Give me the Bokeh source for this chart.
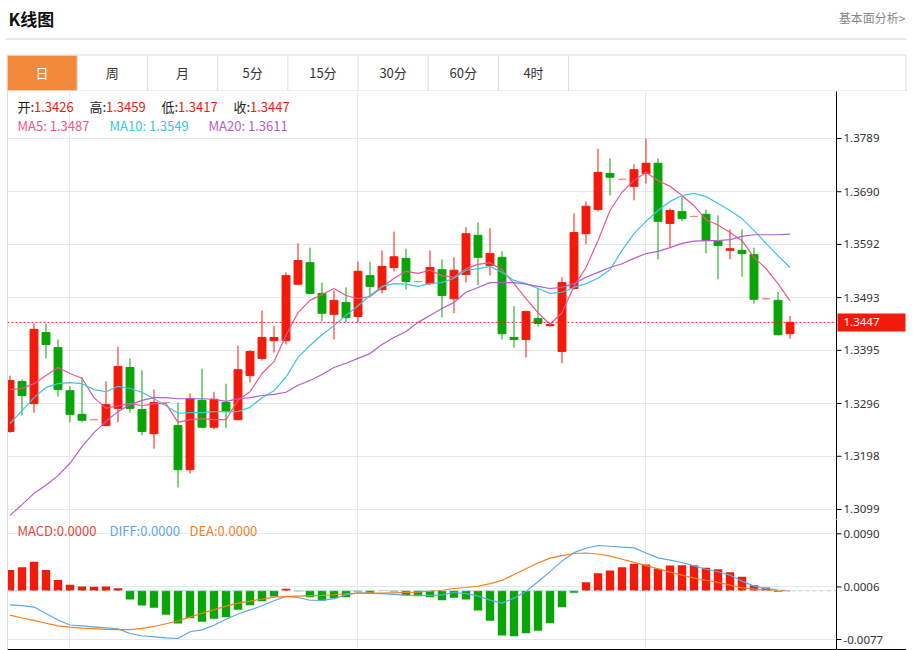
from bokeh.plotting import figure
from bokeh.models import Range1d, LinearAxis, FixedTicker, Grid, Span, Label
from bokeh.layouts import column, row
from bokeh.embed import file_html
from bokeh.resources import INLINE
from bokeh.core.properties import value

# ---------------- data ----------------
tabs = ["日", "周", "月", "5分", "15分", "30分", "60分", "4时"]
price_ticks = [1.3099, 1.3198, 1.3296, 1.3395, 1.3493, 1.3592, 1.3690, 1.3789]
macd_ticks = [-0.0077, 0.0006, 0.0090]
month_ticks = [5, 29, 53]

opens = [1.3244, 1.3337, 1.3296, 1.3428, 1.3400, 1.3320, 1.3276, 1.3266, 1.3255, 1.3287,
         1.3363, 1.3285, 1.3240, 1.3298, 1.3255, 1.3173, 1.3302, 1.3252, 1.3298, 1.3266,
         1.3348, 1.3380, 1.3413, 1.3413, 1.3518, 1.3558, 1.3501, 1.3462, 1.3484, 1.3458,
         1.3534, 1.3508, 1.3549, 1.3566, 1.3523, 1.3519, 1.3545, 1.3491, 1.3536, 1.3609,
         1.3553, 1.3568, 1.3419, 1.3415, 1.3454, 1.3441, 1.3393, 1.3510, 1.3612, 1.3657,
         1.3724, 1.3713, 1.3700, 1.3724, 1.3743, 1.3631, 1.3653, 1.3644, 1.3648, 1.3598,
         1.3581, 1.3581, 1.3573, 1.3491, 1.3488, 1.3426]
highs = [1.3348, 1.3341, 1.3445, 1.3445, 1.3415, 1.3328, 1.3345, 1.3267, 1.3337, 1.3402,
         1.3380, 1.3358, 1.3322, 1.3299, 1.3298, 1.3315, 1.3361, 1.3318, 1.3333, 1.3404,
         1.3395, 1.3469, 1.3441, 1.3540, 1.3594, 1.3586, 1.3521, 1.3506, 1.3512, 1.3560,
         1.3560, 1.3581, 1.3616, 1.3584, 1.3525, 1.3581, 1.3564, 1.3568, 1.3624, 1.3633,
         1.3622, 1.3579, 1.3477, 1.3469, 1.3510, 1.3445, 1.3531, 1.3650, 1.3672, 1.3770,
         1.3752, 1.3715, 1.3741, 1.3789, 1.3752, 1.3659, 1.3681, 1.3646, 1.3657, 1.3646,
         1.3620, 1.3620, 1.3586, 1.3493, 1.3504, 1.3459]
lows = [1.3242, 1.3274, 1.3279, 1.3380, 1.3309, 1.3261, 1.3261, 1.3265, 1.3254, 1.3261,
        1.3279, 1.3237, 1.3212, 1.3297, 1.3140, 1.3166, 1.3250, 1.3248, 1.3250, 1.3265,
        1.3335, 1.3376, 1.3391, 1.3406, 1.3516, 1.3499, 1.3449, 1.3415, 1.3447, 1.3447,
        1.3495, 1.3501, 1.3542, 1.3508, 1.3521, 1.3516, 1.3456, 1.3464, 1.3521, 1.3516,
        1.3534, 1.3415, 1.3400, 1.3382, 1.3439, 1.3439, 1.3371, 1.3508, 1.3592, 1.3653,
        1.3683, 1.3711, 1.3674, 1.3705, 1.3564, 1.3586, 1.3635, 1.3642, 1.3575, 1.3527,
        1.3564, 1.3532, 1.3482, 1.3489, 1.3423, 1.3417]
closes = [1.3339, 1.3311, 1.3434, 1.3406, 1.3322, 1.3276, 1.3265, 1.3266, 1.3294, 1.3365,
          1.3287, 1.3244, 1.3298, 1.3298, 1.3173, 1.3305, 1.3252, 1.3304, 1.3281, 1.3359,
          1.3393, 1.3419, 1.3419, 1.3534, 1.3562, 1.3501, 1.3464, 1.3488, 1.3456, 1.3542,
          1.3514, 1.3551, 1.3569, 1.3523, 1.3523, 1.3549, 1.3497, 1.3544, 1.3612, 1.3568,
          1.3575, 1.3426, 1.3415, 1.3467, 1.3445, 1.3443, 1.3521, 1.3614, 1.3663, 1.3726,
          1.3717, 1.3713, 1.3731, 1.3743, 1.3635, 1.3655, 1.3640, 1.3644, 1.3599, 1.3590,
          1.3584, 1.3575, 1.3490, 1.3491, 1.3424, 1.3447]
ma5 = [1.3322, 1.3324, 1.3333, 1.3348, 1.3363, 1.3352, 1.3343, 1.3307, 1.3287, 1.3292,
       1.3296, 1.3292, 1.3296, 1.3296, 1.3261, 1.3266, 1.3268, 1.3266, 1.3266, 1.3302,
       1.3318, 1.3352, 1.3374, 1.3423, 1.3465, 1.3488, 1.3499, 1.3510, 1.3497, 1.3491,
       1.3495, 1.3512, 1.3529, 1.3542, 1.3538, 1.3544, 1.3534, 1.3531, 1.3547, 1.3555,
       1.3558, 1.3545, 1.3519, 1.3491, 1.3465, 1.3443, 1.3465, 1.3514, 1.3549, 1.3599,
       1.3655, 1.3689, 1.3711, 1.3726, 1.3711, 1.3700, 1.3683, 1.3664, 1.3638, 1.3628,
       1.3614, 1.3599, 1.3568, 1.3547, 1.3519, 1.3487]
ma10 = [1.3259, 1.3283, 1.3307, 1.3326, 1.3333, 1.3335, 1.3333, 1.3322, 1.3318, 1.3328,
        1.3324, 1.3317, 1.3305, 1.3292, 1.3278, 1.3279, 1.3279, 1.3281, 1.3281, 1.3281,
        1.3289, 1.3307, 1.3320, 1.3345, 1.3382, 1.3404, 1.3424, 1.3441, 1.3460, 1.3478,
        1.3497, 1.3514, 1.3519, 1.3518, 1.3514, 1.3519, 1.3521, 1.3529, 1.3544, 1.3547,
        1.3551, 1.3540, 1.3525, 1.3519, 1.3510, 1.3501, 1.3503, 1.3512, 1.3519, 1.3529,
        1.3545, 1.3581, 1.3612, 1.3635, 1.3655, 1.3672, 1.3683, 1.3687, 1.3681, 1.3668,
        1.3655, 1.3640, 1.3618, 1.3594, 1.3571, 1.3549]
ma20 = [1.3088, 1.3108, 1.3129, 1.3144, 1.3162, 1.3185, 1.3216, 1.3242, 1.3263, 1.3281,
        1.3294, 1.3302, 1.3307, 1.3307, 1.3305, 1.3305, 1.3305, 1.3304, 1.3300, 1.3305,
        1.3307, 1.3311, 1.3313, 1.3317, 1.3330, 1.3339, 1.3350, 1.3363, 1.3371, 1.3380,
        1.3389, 1.3406, 1.3419, 1.3430, 1.3447, 1.3460, 1.3473, 1.3484, 1.3503, 1.3512,
        1.3521, 1.3521, 1.3521, 1.3518, 1.3514, 1.3510, 1.3512, 1.3519, 1.3531, 1.3540,
        1.3549, 1.3556, 1.3566, 1.3575, 1.3579, 1.3586, 1.3594, 1.3598, 1.3599, 1.3599,
        1.3601, 1.3607, 1.3610, 1.3610, 1.3610, 1.3611]
macd = [0.0033, 0.0037, 0.0046, 0.0033, 0.0017, 0.00095, 0.00068, 0.00063, 0.00068, 0.00041,
        -0.00137, -0.00232, -0.00269, -0.00379, -0.00517, -0.00433, -0.0049, -0.00442, -0.00417, -0.0030,
        -0.00228, -0.00164, -0.0009, 0.00032, -0.00008, -0.00101, -0.00153, -0.00117, -0.00101, -0.00011,
        -0.00032, 0.00005, -0.00011, -0.00074, -0.00085, -0.00101, -0.00149, -0.00111, -0.00137, -0.00311,
        -0.00474, -0.00706, -0.00717, -0.0067, -0.00632, -0.00512, -0.00259, -0.00032, 0.00136, 0.00278,
        0.00321, 0.00373, 0.00427, 0.00416, 0.00348, 0.0040, 0.00404, 0.00404, 0.00363, 0.00341,
        0.00294, 0.00221, 0.00088, 0.00052, -0.00016, 0.0]
diff = [-0.00224, -0.00235, -0.00258, -0.00359, -0.00463, -0.00541, -0.00555, -0.00569, -0.00585, -0.00602,
        -0.00675, -0.00711, -0.00727, -0.00743, -0.00754, -0.00648, -0.00618, -0.00545, -0.0045, -0.00367,
        -0.00303, -0.00237, -0.00158, -0.00088, -0.00106, -0.0015, -0.00153, -0.00123, -0.00066, -0.00033,
        -0.0004, -0.00046, -0.00057, -0.00068, -0.00074, -0.00074, -0.00065, -0.00027, -0.00045, -0.00082,
        -0.00147, -0.00196, -0.00117, -0.00006, 0.00142, 0.00303, 0.00469, 0.00602, 0.00672, 0.00715,
        0.00703, 0.0069, 0.00678, 0.00597, 0.00519, 0.00483, 0.00447, 0.00393, 0.0034, 0.003,
        0.00246, 0.00152, 0.00073, 0.00035, 0.00011, 0.0]
dea = [-0.00386, -0.0043, -0.00469, -0.00513, -0.00555, -0.00575, -0.00589, -0.00597, -0.0061, -0.00615,
       -0.00613, -0.00594, -0.00564, -0.00521, -0.00474, -0.00416, -0.00356, -0.00299, -0.00242, -0.00194,
       -0.00163, -0.00131, -0.00101, -0.00092, -0.00084, -0.00077, -0.00073, -0.00063, -0.00047, -0.00038,
       -0.00038, -0.00038, -0.00033, -0.00027, -0.00022, -0.00006, 0.00008, 0.00036, 0.00052, 0.00071,
       0.00114, 0.00163, 0.00256, 0.00348, 0.00438, 0.00515, 0.00556, 0.00589, 0.00597, 0.00581,
       0.00548, 0.00498, 0.00449, 0.00397, 0.00346, 0.00295, 0.00246, 0.00199, 0.00166, 0.00133,
       0.0009, 0.00047, 0.00027, 0.00011, 0.00003, 0.0]

# ---------------- styles ----------------
UP, DOWN, FLAT = "#f21b0b", "#08a408", "#f58a80"
C_MA5, C_MA10, C_MA20 = "#f0568a", "#3cc6e0", "#b35dd3"
C_MACD, C_DIFF, C_DEA = "#f0433a", "#5aa8f0", "#f5801f"
GRID, BORDER = "#e3e9ef", "#dddddd"
CJK, NUM = "Noto Sans CJK SC", "Noto Sans"

PAGE_W = 913
LEFT = 7          # left edge of the chart frames
AXIS_X = 836      # x of the price axis line
AX_W = 70         # width of the axis column (836..906)
PH, MH = 428, 131  # pane heights


def bare(f):
    f.outline_line_color = None
    for g in list(f.grid):
        g.visible = False
    return f


# ---------------- header (title + tabs) ----------------
hdr = bare(figure(width=PAGE_W, height=91, x_range=Range1d(0, PAGE_W), y_range=Range1d(91, 0),
                  toolbar_location=None, output_backend="svg", min_border=0,
                  x_axis_location=None, y_axis_location=None))
hdr.text(x=[8], y=[18], text=["K线图"], text_font=value(CJK), text_font_style="bold",
         text_font_size="17px", text_baseline="middle", text_color="#111111")
hdr.text(x=[905], y=[17], text=["基本面分析>"], text_font=value(CJK), text_font_size="12px",
         text_baseline="middle", text_align="right", text_color="#888888")
hdr.segment(x0=[5], y0=[38.5], x1=[906], y1=[38.5], line_color="#d0d0d0", line_width=1)
tab_w = 70.2
tab_left = 6.5
hdr.quad(left=[tab_left + 0.5], right=[tab_left + tab_w], top=[55], bottom=[90],
         fill_color="#f28a3b", line_color=None)
hdr.quad(left=[tab_left], right=[905.5], top=[54.5], bottom=[90.5], fill_color=None, line_color=BORDER)
div_x = [tab_left + tab_w * (k + 1) for k in range(len(tabs))]
hdr.segment(x0=div_x, y0=[54.5] * len(div_x), x1=div_x, y1=[90.5] * len(div_x), line_color=BORDER)
tab_cx = [tab_left + tab_w * (k + 0.5) for k in range(len(tabs))]
tab_col = ["#ffffff"] + ["#333333"] * (len(tabs) - 1)
hdr.text(x=tab_cx, y=[72] * len(tabs), text=tabs, text_color=tab_col, text_font=value(CJK),
         text_font_size="13px", text_align="center", text_baseline="middle")

# ---------------- helpers ----------------
idx = list(range(len(closes)))
xr = Range1d(-0.2083, 68.875)


def edge_axis(color):
    return LinearAxis(ticker=FixedTicker(ticks=[]), axis_line_color=color,
                      major_tick_line_color=None, minor_tick_line_color=None,
                      major_label_text_font_size="0px", major_label_standoff=0,
                      major_tick_out=0, major_tick_in=0, minor_tick_out=0, minor_tick_in=0)


def pane(height, yr, ticks, bottom_border):
    f = bare(figure(width=AXIS_X, height=height, x_range=xr, y_range=yr,
                    toolbar_location=None, output_backend="svg",
                    min_border_left=LEFT, min_border_right=0, min_border_top=0,
                    min_border_bottom=bottom_border, x_axis_location=None, y_axis_location=None))
    f.add_layout(edge_axis(BORDER), "left")
    f.add_layout(edge_axis("black"), "below")
    f.add_layout(Grid(dimension=1, ticker=FixedTicker(ticks=ticks), grid_line_color=GRID))
    f.add_layout(Grid(dimension=0, ticker=FixedTicker(ticks=month_ticks), grid_line_color=GRID))
    return f


def axis_column(height, yr, ticks, bottom_border, bottom_line):
    a = bare(figure(width=AX_W, height=height, x_range=Range1d(0, AX_W), y_range=yr,
                    toolbar_location=None, output_backend="svg", min_border_left=0,
                    min_border_right=0, min_border_top=0, min_border_bottom=bottom_border,
                    x_axis_location=None, y_axis_location=None))
    a.add_layout(edge_axis("black"), "left")
    a.add_layout(edge_axis(BORDER), "right")
    if bottom_line:
        a.add_layout(edge_axis("black"), "below")
    a.segment(x0=[0] * len(ticks), y0=ticks, x1=[5] * len(ticks), y1=ticks, line_color="black")
    a.text(x=[7] * len(ticks), y=ticks, text=[f"{t:.4f}" for t in ticks], text_font=value(NUM),
           text_font_size="11.5px", text_color="#333333", text_baseline="middle")
    return a


# ---------------- price pane ----------------
py = Range1d(1.30804, 1.38764)
pf = pane(PH, py, price_ticks, 0)
colors = [UP if c > o else (DOWN if c < o else FLAT) for o, c in zip(opens, closes)]
tops = [max(o, c) for o, c in zip(opens, closes)]
bots = [min(o, c) for o, c in zip(opens, closes)]
pf.segment(x0=idx, y0=lows, x1=idx, y1=highs, line_color=colors, line_width=1)
pf.vbar(x=idx, width=0.66, top=tops, bottom=bots, fill_color=colors, line_color=colors, line_width=1)
pf.line(idx, ma5, line_color=C_MA5, line_width=1.2)
pf.line(idx, ma10, line_color=C_MA10, line_width=1.2)
pf.line(idx, ma20, line_color=C_MA20, line_width=1.2)
last = closes[-1]
pf.add_layout(Span(location=last, dimension="width", line_color=UP, line_dash="2 2", line_width=1))

info = [("开:", 10, opens[-1]), ("高:", 82, highs[-1]), ("低:", 154, lows[-1]), ("收:", 226, closes[-1])]
for key, sx, v in info:
    pf.add_layout(Label(x=sx, y=PH - 15, x_units="screen", y_units="screen", text=key,
                        text_font=CJK, text_font_size="13px", text_color="#222222",
                        text_baseline="middle"))
    pf.add_layout(Label(x=sx + 16.5, y=PH - 15, x_units="screen", y_units="screen", text=f"{v:.4f}",
                        text_font=CJK, text_font_size="13px", text_color=UP, text_baseline="middle"))
for txt, sx, col in [(f"MA5: {ma5[-1]:.4f}", 10, C_MA5), (f"MA10: {ma10[-1]:.4f}", 102, C_MA10),
                     (f"MA20: {ma20[-1]:.4f}", 201, C_MA20)]:
    pf.add_layout(Label(x=sx, y=PH - 34, x_units="screen", y_units="screen", text=txt,
                        text_font=CJK, text_font_size="13px", text_color=col, text_baseline="middle"))

pa = axis_column(PH, py, price_ticks, 0, False)
pa.rect(x=[35], y=[last], width=[68], height=[18], height_units="screen",
        fill_color=UP, line_color=None)
pa.text(x=[7], y=[last], text=[f"{last:.4f}"], text_font=value(NUM), text_font_size="11.5px",
        text_color="white", text_baseline="middle")

# ---------------- MACD pane ----------------
my = Range1d(-0.00928, 0.01126)
mf = pane(MH, my, macd_ticks, 1)
mf.add_layout(Span(location=0, dimension="width", line_color="#a9d3ec", line_dash="4 3", line_width=1))
mcol = [UP if m > 0 else DOWN for m in macd]
mf.vbar(x=idx, width=0.7, top=[max(m, 0) for m in macd], bottom=[min(m, 0) for m in macd],
        fill_color=mcol, line_color=None)
mf.line(idx, diff, line_color=C_DIFF, line_width=1.2)
mf.line(idx, dea, line_color=C_DEA, line_width=1.2)
for txt, sx, col in [(f"MACD:{macd[-1]:.4f}", 10, C_MACD), (f"DIFF:{diff[-1]:.4f}", 102, C_DIFF),
                     (f"DEA:{dea[-1]:.4f}", 182, C_DEA)]:
    mf.add_layout(Label(x=sx, y=MH - 1 - 11, x_units="screen", y_units="screen", text=txt,
                        text_font=CJK, text_font_size="13px", text_color=col, text_baseline="middle"))
ma = axis_column(MH, my, macd_ticks, 1, True)

layout = column(hdr, row(column(pf, mf), column(pa, ma)))
open("out.html", "w").write(file_html(layout, INLINE))
